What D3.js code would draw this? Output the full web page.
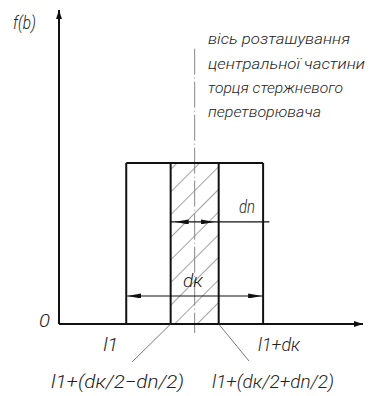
<!DOCTYPE html>
<html>
<head>
<meta charset="utf-8">
<script src="https://cdn.jsdelivr.net/npm/d3@7"></script>
<style>
  body { margin: 0; background: #fff; }
  svg { display: block; }
  text { font-family: Roboto, Lato, "DejaVu Sans Condensed", sans-serif; font-weight: 300; font-style: italic; fill: #222; }
</style>
</head>
<body>
<div id="chart"></div>
<script>
// sizes of the converter (arbitrary units along the axis)
const dimNames = ["l1", "dk", "dn"];
const dimValues = [1.4, 2.85, 1.0];
const fLevels = [0, 1];          // f(b) outside / inside the rod
const xMax = 6.33, yMax = 1.95;
const axisLabels = ["f(b)", "0"];
const tickLabels = ["l1", "l1+d\u043a", "l1+(d\u043a/2\u2212dn/2)", "l1+(d\u043a/2+dn/2)"];
const noteLines = ["вісь розташування", "центральної частини", "торця стержневого", "перетворювача"];

const [l1, dk, dn] = dimValues;
const c = l1 + dk / 2;

const W = 375, H = 396;
const x = d3.scaleLinear().domain([0, xMax]).range([59, 363]);
const y = d3.scaleLinear().domain([0, fLevels[1]]).range([324, 163]);

const svg = d3.select("#chart").append("svg").attr("width", W).attr("height", H);
const defs = svg.append("defs");

function arrowMarker(id, len, half) {
  defs.append("marker").attr("id", id)
    .attr("viewBox", `0 ${-half} ${len} ${half * 2}`)
    .attr("refX", len).attr("refY", 0)
    .attr("markerWidth", len).attr("markerHeight", half * 2)
    .attr("markerUnits", "userSpaceOnUse")
    .attr("orient", "auto-start-reverse")
    .append("path").attr("d", `M0,${-half}L${len},0L0,${half}Z`).attr("fill", "#111");
}
arrowMarker("ax", 9, 3);
arrowMarker("dim", 14, 2.5);

// hatching of the central part
const hatch = defs.append("pattern").attr("id", "hatch")
  .attr("patternUnits", "userSpaceOnUse").attr("width", 16).attr("height", 16)
  .attr("patternTransform", "rotate(45)");
hatch.append("line").attr("x1", 0).attr("y1", 0).attr("x2", 0).attr("y2", 16)
  .attr("stroke", "#333").attr("stroke-width", 0.9);

// hatched inner strip
svg.append("rect")
  .attr("x", x(c - dn / 2)).attr("y", y(1))
  .attr("width", x(c + dn / 2) - x(c - dn / 2)).attr("height", y(0) - y(1))
  .attr("fill", "url(#hatch)");

// center dash-dot line
svg.append("line")
  .attr("x1", x(c)).attr("x2", x(c)).attr("y1", y(1.71)).attr("y2", y(-0.055))
  .attr("stroke", "#888").attr("stroke-width", 1)
  .attr("stroke-dasharray", "26,3,1,3");

// axes
svg.append("line").attr("x1", x(0)).attr("x2", x(0)).attr("y1", y(0)).attr("y2", y(yMax))
  .attr("stroke", "#111").attr("stroke-width", 2).attr("marker-end", "url(#ax)");
svg.append("line").attr("x1", x(0)).attr("x2", x(xMax)).attr("y1", y(0)).attr("y2", y(0))
  .attr("stroke", "#111").attr("stroke-width", 2).attr("marker-end", "url(#ax)");

// outline of the rectangles
const edges = [l1, c - dn / 2, c + dn / 2, l1 + dk];
svg.selectAll("line.edge").data(edges).join("line").attr("class", "edge")
  .attr("x1", d => x(d)).attr("x2", d => x(d)).attr("y1", y(0)).attr("y2", y(1))
  .attr("stroke", "#111").attr("stroke-width", 2);
svg.append("line").attr("x1", x(l1)).attr("x2", x(l1 + dk)).attr("y1", y(1)).attr("y2", y(1))
  .attr("stroke", "#111").attr("stroke-width", 2);

// dimension dk
svg.append("line").attr("x1", x(l1) + 1).attr("x2", x(l1 + dk) - 1).attr("y1", y(0.174)).attr("y2", y(0.174))
  .attr("stroke", "#111").attr("stroke-width", 1.2)
  .attr("marker-start", "url(#dim)").attr("marker-end", "url(#dim)");
// dimension dn
svg.append("line").attr("x1", x(c - dn / 2)).attr("x2", x(4.38)).attr("y1", y(0.634)).attr("y2", y(0.634))
  .attr("stroke", "#111").attr("stroke-width", 1.2);
svg.append("line").attr("x1", x(c)).attr("x2", x(c - dn / 2) + 4).attr("y1", y(0.634)).attr("y2", y(0.634))
  .attr("stroke", "none").attr("marker-end", "url(#dim)");
svg.append("line").attr("x1", x(c)).attr("x2", x(c + dn / 2) - 4).attr("y1", y(0.634)).attr("y2", y(0.634))
  .attr("stroke", "none").attr("marker-end", "url(#dim)");

// leaders to the formulas
svg.append("line").attr("x1", x(c - dn / 2)).attr("y1", y(0)).attr("x2", 132).attr("y2", 362)
  .attr("stroke", "#555").attr("stroke-width", 0.8);
svg.append("line").attr("x1", x(c + dn / 2)).attr("y1", y(0)).attr("x2", 249).attr("y2", 361)
  .attr("stroke", "#555").attr("stroke-width", 0.8);

// texts
function label(t, px, py, size, len) {
  const el = svg.append("text").attr("x", px).attr("y", py).attr("font-size", size).text(t);
  if (len) el.attr("textLength", len).attr("lengthAdjust", "spacingAndGlyphs");
  return el;
}
label(axisLabels[0], 13, 29, 19, 23);
label(axisLabels[1], 39, 327, 19, 11);
label(tickLabels[0], x(l1) - 23, 351, 18, 15);
label(tickLabels[1], x(l1 + dk) - 5, 351, 18, 42);
label(tickLabels[2], 51, 388, 18, 133);
label(tickLabels[3], 212, 388, 18, 122);
label(dimNames[2], 239, 213, 18, 16);
label("d\u043a", 183, 287, 18, 20);

const noteY = [44, 69, 93, 117];
const noteLen = [142, 157, 135, 113];
noteLines.forEach((t, i) => label(t, 208, noteY[i], 15, noteLen[i]));
</script>
</body>
</html>
